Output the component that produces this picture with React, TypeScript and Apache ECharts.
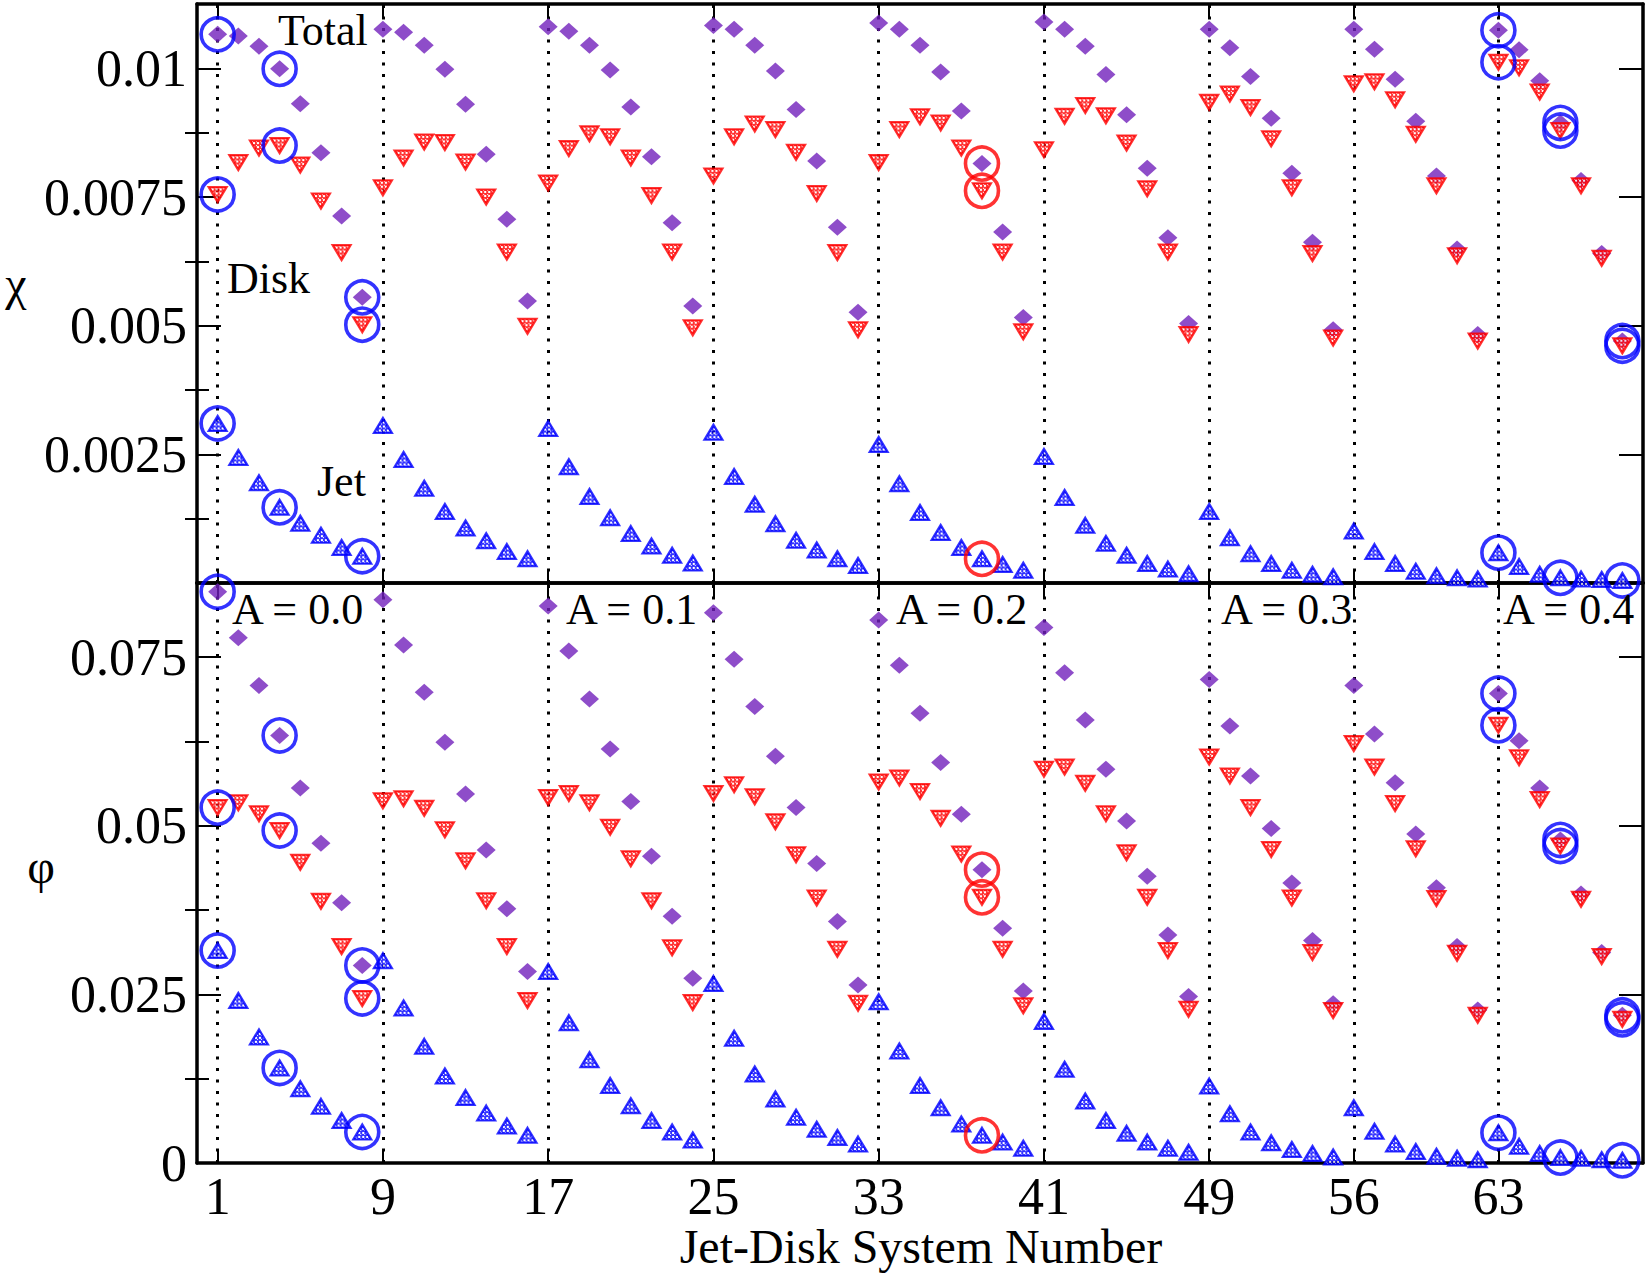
import React, { useEffect, useRef } from 'react';
import * as echarts from 'echarts';

// ---------- data ----------
const systemNumbers = [
  1, 2, 3, 4, 5, 6, 7, 8,
  9, 10, 11, 12, 13, 14, 15, 16,
  17, 18, 19, 20, 21, 22, 23, 24,
  25, 26, 27, 28, 29, 30, 31, 32,
  33, 34, 35, 36, 37, 38, 39, 40,
  41, 42, 43, 44, 45, 46, 47, 48,
  49, 50, 51, 52, 53, 54, 55,
  56, 57, 58, 59, 60, 61, 62,
  63, 64, 65, 66, 67, 68, 69,
];

const chiTotal = [
  0.01066, 0.01063, 0.01043, 0.00999, 0.00931, 0.00836, 0.00713, 0.00555,
  0.01076, 0.01070, 0.01045, 0.00998, 0.00930, 0.00833, 0.00707, 0.00548,
  0.01081, 0.01072, 0.01045, 0.00997, 0.00925, 0.00828, 0.00700, 0.00538,
  0.01083, 0.01076, 0.01045, 0.00995, 0.00920, 0.00820, 0.00691, 0.00526,
  0.01088, 0.01076, 0.01045, 0.00993, 0.00917, 0.00815, 0.00682, 0.00516,
  0.01090, 0.01076, 0.01043, 0.00988, 0.00910, 0.00806, 0.00671, 0.00504,
  0.01076, 0.01040, 0.00984, 0.00903, 0.00796, 0.00662, 0.00492,
  0.01076, 0.01037, 0.00979, 0.00897, 0.00791, 0.00649, 0.00483,
  0.01074, 0.01036, 0.00976, 0.00894, 0.00782, 0.00640, 0.00470,
];

const chiDisk = [
  0.00755, 0.00817, 0.00845, 0.00850, 0.00812, 0.00742, 0.00642, 0.00502,
  0.00768, 0.00826, 0.00857, 0.00856, 0.00818, 0.00750, 0.00643, 0.00499,
  0.00777, 0.00844, 0.00873, 0.00867, 0.00826, 0.00753, 0.00643, 0.00496,
  0.00791, 0.00867, 0.00892, 0.00881, 0.00837, 0.00757, 0.00642, 0.00492,
  0.00817, 0.00881, 0.00906, 0.00894, 0.00845, 0.00762, 0.00643, 0.00488,
  0.00842, 0.00907, 0.00928, 0.00908, 0.00855, 0.00766, 0.00643, 0.00483,
  0.00934, 0.00950, 0.00924, 0.00863, 0.00768, 0.00640, 0.00476,
  0.00970, 0.00974, 0.00939, 0.00872, 0.00772, 0.00636, 0.00470,
  0.01012, 0.01001, 0.00954, 0.00879, 0.00772, 0.00631, 0.00461,
];

const chiJet = [
  0.00310, 0.00244, 0.00195, 0.00147, 0.00116, 0.00093, 0.00069, 0.00052,
  0.00306, 0.00240, 0.00184, 0.00139, 0.00107, 0.00082, 0.00061, 0.00047,
  0.00300, 0.00226, 0.00168, 0.00127, 0.00096, 0.00072, 0.00054, 0.00039,
  0.00293, 0.00207, 0.00153, 0.00115, 0.00083, 0.00064, 0.00047, 0.00034,
  0.00269, 0.00193, 0.00137, 0.00098, 0.00069, 0.00047, 0.00036, 0.00025,
  0.00246, 0.00166, 0.00112, 0.00077, 0.00054, 0.00038, 0.00027, 0.00018,
  0.00139, 0.00088, 0.00057, 0.00038, 0.00025, 0.00017, 0.00012,
  0.00101, 0.00061, 0.00038, 0.00023, 0.00014, 0.00010, 0.00008,
  0.00059, 0.00032, 0.00017, 0.00010, 0.00008, 0.00007, 0.00005,
];

const phiTotal = [
  0.0847, 0.0779, 0.0708, 0.0634, 0.0556, 0.0474, 0.0386, 0.0293,
  0.0835, 0.0768, 0.0698, 0.0624, 0.0547, 0.0464, 0.0377, 0.0284,
  0.0826, 0.0759, 0.0688, 0.0614, 0.0536, 0.0455, 0.0366, 0.0274,
  0.0816, 0.0747, 0.0677, 0.0603, 0.0527, 0.0444, 0.0358, 0.0264,
  0.0805, 0.0738, 0.0667, 0.0594, 0.0517, 0.0435, 0.0348, 0.0255,
  0.0794, 0.0727, 0.0657, 0.0584, 0.0507, 0.0425, 0.0338, 0.0247,
  0.0717, 0.0648, 0.0574, 0.0496, 0.0415, 0.0330, 0.0236,
  0.0708, 0.0636, 0.0564, 0.0488, 0.0408, 0.0321, 0.0227,
  0.0696, 0.0626, 0.0556, 0.0479, 0.0399, 0.0312, 0.0219,
];

const phiDisk = [
  0.0527, 0.0534, 0.0518, 0.0493, 0.0446, 0.0388, 0.0321, 0.0244,
  0.0537, 0.0540, 0.0526, 0.0494, 0.0448, 0.0389, 0.0321, 0.0241,
  0.0542, 0.0548, 0.0534, 0.0498, 0.0451, 0.0389, 0.0319, 0.0238,
  0.0548, 0.0561, 0.0543, 0.0506, 0.0457, 0.0393, 0.0317, 0.0237,
  0.0565, 0.0571, 0.0551, 0.0511, 0.0458, 0.0394, 0.0317, 0.0233,
  0.0584, 0.0587, 0.0563, 0.0518, 0.0460, 0.0394, 0.0315, 0.0228,
  0.0602, 0.0574, 0.0527, 0.0465, 0.0393, 0.0312, 0.0226,
  0.0622, 0.0587, 0.0533, 0.0466, 0.0392, 0.0311, 0.0219,
  0.0649, 0.0601, 0.0539, 0.0470, 0.0391, 0.0306, 0.0213,
];

const phiJet = [
  0.0315, 0.0241, 0.0187, 0.0141, 0.0110, 0.0084, 0.0063, 0.0046,
  0.0300, 0.0230, 0.0173, 0.0129, 0.0097, 0.0074, 0.0055, 0.0041,
  0.0284, 0.0208, 0.0153, 0.0115, 0.0085, 0.0063, 0.0046, 0.0034,
  0.0266, 0.0185, 0.0132, 0.0095, 0.0068, 0.0050, 0.0038, 0.0028,
  0.0239, 0.0166, 0.0115, 0.0082, 0.0058, 0.0041, 0.0031, 0.0022,
  0.0210, 0.0139, 0.0092, 0.0063, 0.0044, 0.0031, 0.0022, 0.0016,
  0.0114, 0.0073, 0.0046, 0.0030, 0.0020, 0.0014, 0.0009,
  0.0082, 0.0047, 0.0028, 0.0017, 0.0010, 0.0007, 0.0005,
  0.0045, 0.0025, 0.0014, 0.0008, 0.0007, 0.0005, 0.0004,
];

const xTickValues = [1, 9, 17, 25, 33, 41, 49, 56, 63];
const chiTickValues = [0, 0.0025, 0.005, 0.0075, 0.01];
const chiLabelValues = [0.0025, 0.005, 0.0075, 0.01];
const chiMinorValues = [0.00125, 0.00375, 0.00625, 0.00875];
const phiTickValues = [0, 0.025, 0.05, 0.075];
const phiMinorValues = [0.0125, 0.0375, 0.0625];
const blueCircled = [1, 4, 8, 63, 66, 69];
const redCircled = [38];
const aLabels = ['A = 0.0', 'A = 0.1', 'A = 0.2', 'A = 0.3', 'A = 0.4'];

// ---------- styling ----------
const FONT = '"Liberation Serif", "Times New Roman", serif';
const INDIGO = '#7221BC';
const RED = '#ff0000';
const BLUE = '#0000ff';
const TRI_W = 18;
const TRI_H = 15;

function makePattern(color: string) {
  const c = document.createElement('canvas');
  c.width = 4;
  c.height = 4;
  const ctx = c.getContext('2d')!;
  ctx.fillStyle = color;
  ctx.fillRect(0, 0, 4, 4);
  ctx.fillStyle = '#ffffff';
  ctx.fillRect(0, 0, 2, 2);
  ctx.fillRect(2, 2, 1, 1);
  // symbols are drawn in a 2x2 box and scaled up to their size; undo that for the pattern
  return {
    image: c.toDataURL(),
    repeat: 'repeat',
    imageWidth: 4,
    imageHeight: 4,
    scaleX: 2 / TRI_W,
    scaleY: 2 / TRI_H,
  } as any;
}

const axisLineStyle = { show: true, onZero: false, lineStyle: { color: '#000', width: 3.5 } };

function xAxisDef(gridIndex: number, position: string, showLabels: boolean) {
  return {
    type: 'value',
    gridIndex,
    position,
    min: 0,
    max: 70,
    axisLine: axisLineStyle,
    axisTick: { show: true, inside: true, length: 14, customValues: xTickValues, lineStyle: { color: '#000', width: 2 } },
    axisLabel: showLabels
      ? { show: true, customValues: xTickValues, fontSize: 52, fontFamily: FONT, color: '#000', margin: 7 }
      : { show: false },
    splitLine: { show: false },
  };
}

function yAxisDef(
  gridIndex: number,
  position: string,
  max: number,
  tickValues: number[],
  tickLen: number,
  labelValues: number[] | null,
  showLine: boolean
) {
  return {
    type: 'value',
    gridIndex,
    position,
    min: 0,
    max,
    axisLine: showLine ? axisLineStyle : { show: false },
    axisTick: { show: true, inside: true, length: tickLen, customValues: tickValues, lineStyle: { color: '#000', width: 2 } },
    axisLabel: labelValues
      ? {
          show: true,
          customValues: labelValues,
          fontSize: 52,
          fontFamily: FONT,
          color: '#000',
          margin: 10,
          formatter: (v: number) => String(+Number(v).toPrecision(6)),
        }
      : { show: false },
    splitLine: { show: false },
  };
}

function panelSeries(
  xAxisIndex: number,
  yAxisIndex: number,
  total: number[],
  disk: number[],
  jet: number[],
  redPat: any,
  bluePat: any
) {
  const pts = (arr: number[]) => systemNumbers.map((x, i) => [x, arr[i]]);
  const circ = (list: number[]) =>
    list.flatMap((n) => {
      const i = systemNumbers.indexOf(n);
      return [
        [n, total[i]],
        [n, disk[i]],
        [n, jet[i]],
      ];
    });
  const common = { type: 'scatter', xAxisIndex, yAxisIndex, silent: true, clip: false };
  return [
    {
      ...common,
      data: [],
      symbolSize: 0,
      z: 1,
      markLine: {
        silent: true,
        z: 1,
        symbol: ['none', 'none'],
        label: { show: false },
        lineStyle: { color: '#000', type: [3, 8.5], width: 3 },
        data: xTickValues.map((v) => ({ xAxis: v })),
      },
    },
    {
      ...common,
      name: 'Total',
      data: pts(total),
      symbol: 'diamond',
      symbolSize: [19, 17],
      itemStyle: { color: INDIGO },
      z: 2,
    },
    {
      ...common,
      name: 'Disk',
      data: pts(disk),
      symbol: 'triangle',
      symbolRotate: 180,
      symbolSize: [TRI_W, TRI_H],
      itemStyle: { color: redPat, borderColor: RED, borderWidth: 2.2 },
      z: 3,
    },
    {
      ...common,
      name: 'Jet',
      data: pts(jet),
      symbol: 'triangle',
      symbolSize: [TRI_W, TRI_H],
      itemStyle: { color: bluePat, borderColor: BLUE, borderWidth: 2.2 },
      z: 4,
    },
    {
      ...common,
      data: circ(blueCircled),
      symbol: 'circle',
      symbolSize: 33,
      itemStyle: { color: 'rgba(0,0,0,0)', borderColor: BLUE, borderWidth: 3.6 },
      z: 5,
    },
    {
      ...common,
      data: circ(redCircled),
      symbol: 'circle',
      symbolSize: 33,
      itemStyle: { color: 'rgba(0,0,0,0)', borderColor: RED, borderWidth: 3.6 },
      z: 5,
    },
  ];
}

function textEl(text: string, x: number, y: number, size: number, align = 'left') {
  return {
    type: 'text',
    x,
    y,
    silent: true,
    z: 10,
    style: {
      text,
      font: `${size}px ${FONT}`,
      fontSize: size,
      fontFamily: FONT,
      fill: '#000',
      align,
      verticalAlign: 'middle',
      textAlign: align,
      textVerticalAlign: 'middle',
    },
  };
}

function buildOption() {
  const redPat = makePattern(RED);
  const bluePat = makePattern(BLUE);
  const aLefts = [232, 566, 896, 1221, 1503];
  return {
    animation: false,
    backgroundColor: '#ffffff',
    grid: [
      { left: 197, top: 4, width: 1446, height: 579, outerBoundsMode: 'none', containLabel: false },
      { left: 197, top: 583, width: 1446, height: 580, outerBoundsMode: 'none', containLabel: false },
    ],
    xAxis: [
      xAxisDef(0, 'bottom', false),
      xAxisDef(0, 'top', false),
      xAxisDef(1, 'bottom', true),
      xAxisDef(1, 'top', false),
    ],
    yAxis: [
      yAxisDef(0, 'left', 0.01125, chiTickValues, 24, chiLabelValues, true),
      yAxisDef(0, 'left', 0.01125, chiMinorValues, 12, null, false),
      yAxisDef(0, 'right', 0.01125, chiTickValues, 24, null, true),
      yAxisDef(0, 'right', 0.01125, chiMinorValues, 12, null, false),
      yAxisDef(1, 'left', 0.086, phiTickValues, 24, phiTickValues, true),
      yAxisDef(1, 'left', 0.086, phiMinorValues, 12, null, false),
      yAxisDef(1, 'right', 0.086, phiTickValues, 24, null, true),
      yAxisDef(1, 'right', 0.086, phiMinorValues, 12, null, false),
    ],
    series: [
      ...panelSeries(0, 0, chiTotal, chiDisk, chiJet, redPat, bluePat),
      ...panelSeries(2, 4, phiTotal, phiDisk, phiJet, redPat, bluePat),
    ],
    graphic: [
      textEl('Total', 278, 30, 44),
      textEl('Disk', 227, 278, 44),
      textEl('Jet', 317, 481, 44),
      ...aLabels.map((t, i) => textEl(t, aLefts[i], 609, 44)),
      textEl('χ', 16, 283, 48, 'center'),
      textEl('φ', 41, 866, 48, 'center'),
      textEl('Jet-Disk System Number', 921, 1246, 48, 'center'),
    ],
  };
}

export default function App() {
  const ref = useRef<HTMLDivElement>(null);
  useEffect(() => {
    if (!ref.current) return;
    const chart = echarts.init(ref.current, null, { renderer: 'svg' });
    chart.setOption(buildOption() as any);
    return () => {
      chart.dispose();
    };
  }, []);
  return (
    <div
      ref={ref}
      style={{ position: 'fixed', left: 0, top: 0, width: 1648, height: 1275, background: '#ffffff' }}
    />
  );
}
